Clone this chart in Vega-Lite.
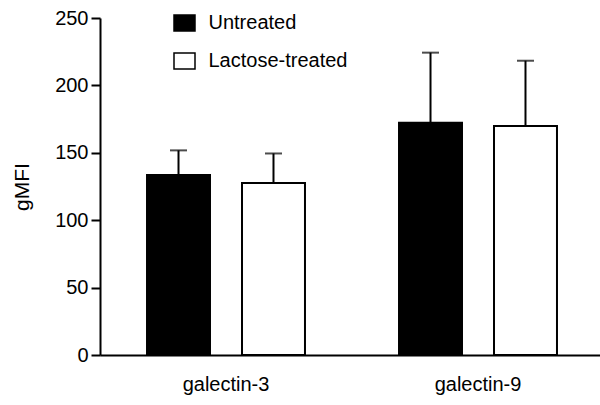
{
  "$schema": "https://vega.github.io/schema/vega-lite/v6.json",
  "autosize": "none",
  "padding": {"left": 100, "top": 18, "right": 0, "bottom": 50},
  "width": 504,
  "height": 337,
  "background": "white",
  "config": {
    "font": "Liberation Sans",
    "view": {"stroke": null},
    "axis": {"grid": false, "domainColor": "black", "domainWidth": 2, "tickColor": "black", "tickWidth": 2, "labelColor": "black", "titleColor": "black", "labelFont": "Liberation Sans", "titleFont": "Liberation Sans"}
  },
  "data": {
    "values": [
      {"protein": "galectin-3", "group": "Untreated", "gMFI": 133.5, "upper": 151.8},
      {"protein": "galectin-3", "group": "Lactose-treated", "gMFI": 127.6, "upper": 149.5},
      {"protein": "galectin-9", "group": "Untreated", "gMFI": 172.3, "upper": 224.3},
      {"protein": "galectin-9", "group": "Lactose-treated", "gMFI": 169.9, "upper": 218.3}
    ]
  },
  "encoding": {
    "x": {
      "field": "protein", "type": "nominal",
      "scale": {"paddingInner": 0, "paddingOuter": 0},
      "axis": {"title": null, "labelAngle": 0, "ticks": false, "labelFontSize": 20, "labelPadding": 19, "labelFontWeight": "normal"}
    },
    "xOffset": {
      "field": "group", "type": "nominal",
      "sort": ["Untreated", "Lactose-treated"],
      "scale": {"paddingInner": 0.337, "paddingOuter": 0.495}
    }
  },
  "layer": [
    {
      "mark": {"type": "bar", "stroke": "black", "strokeWidth": 2},
      "encoding": {
        "y": {
          "field": "gMFI", "type": "quantitative",
          "scale": {"domain": [0, 250], "nice": false},
          "axis": {"title": "gMFI", "values": [0, 50, 100, 150, 200, 250], "tickSize": 9, "labelFontSize": 20, "labelPadding": 3, "titleFontSize": 21, "titleFontWeight": "normal", "titlePadding": 22}
        },
        "fill": {
          "field": "group", "type": "nominal",
          "scale": {"domain": ["Untreated", "Lactose-treated"], "range": ["black", "white"]},
          "legend": {
            "title": null, "orient": "none", "legendX": 74.5, "legendY": -5,
            "padding": 0,
            "symbolType": "M-1.3125,-1H1.3125V1H-1.3125Z",
            "symbolSize": 256,
            "symbolStrokeColor": "black", "symbolStrokeWidth": 1.5,
            "labelFontSize": 20, "labelFont": "Liberation Sans", "labelColor": "black",
            "labelOffset": 14, "rowPadding": 16
          }
        }
      }
    },
    {
      "mark": {"type": "rule", "color": "black", "strokeWidth": 2},
      "encoding": {
        "y": {"field": "gMFI", "type": "quantitative"},
        "y2": {"field": "upper"}
      }
    },
    {
      "mark": {"type": "tick", "color": "black", "thickness": 2, "size": 17},
      "encoding": {
        "y": {"field": "upper", "type": "quantitative"}
      }
    }
  ]
}
